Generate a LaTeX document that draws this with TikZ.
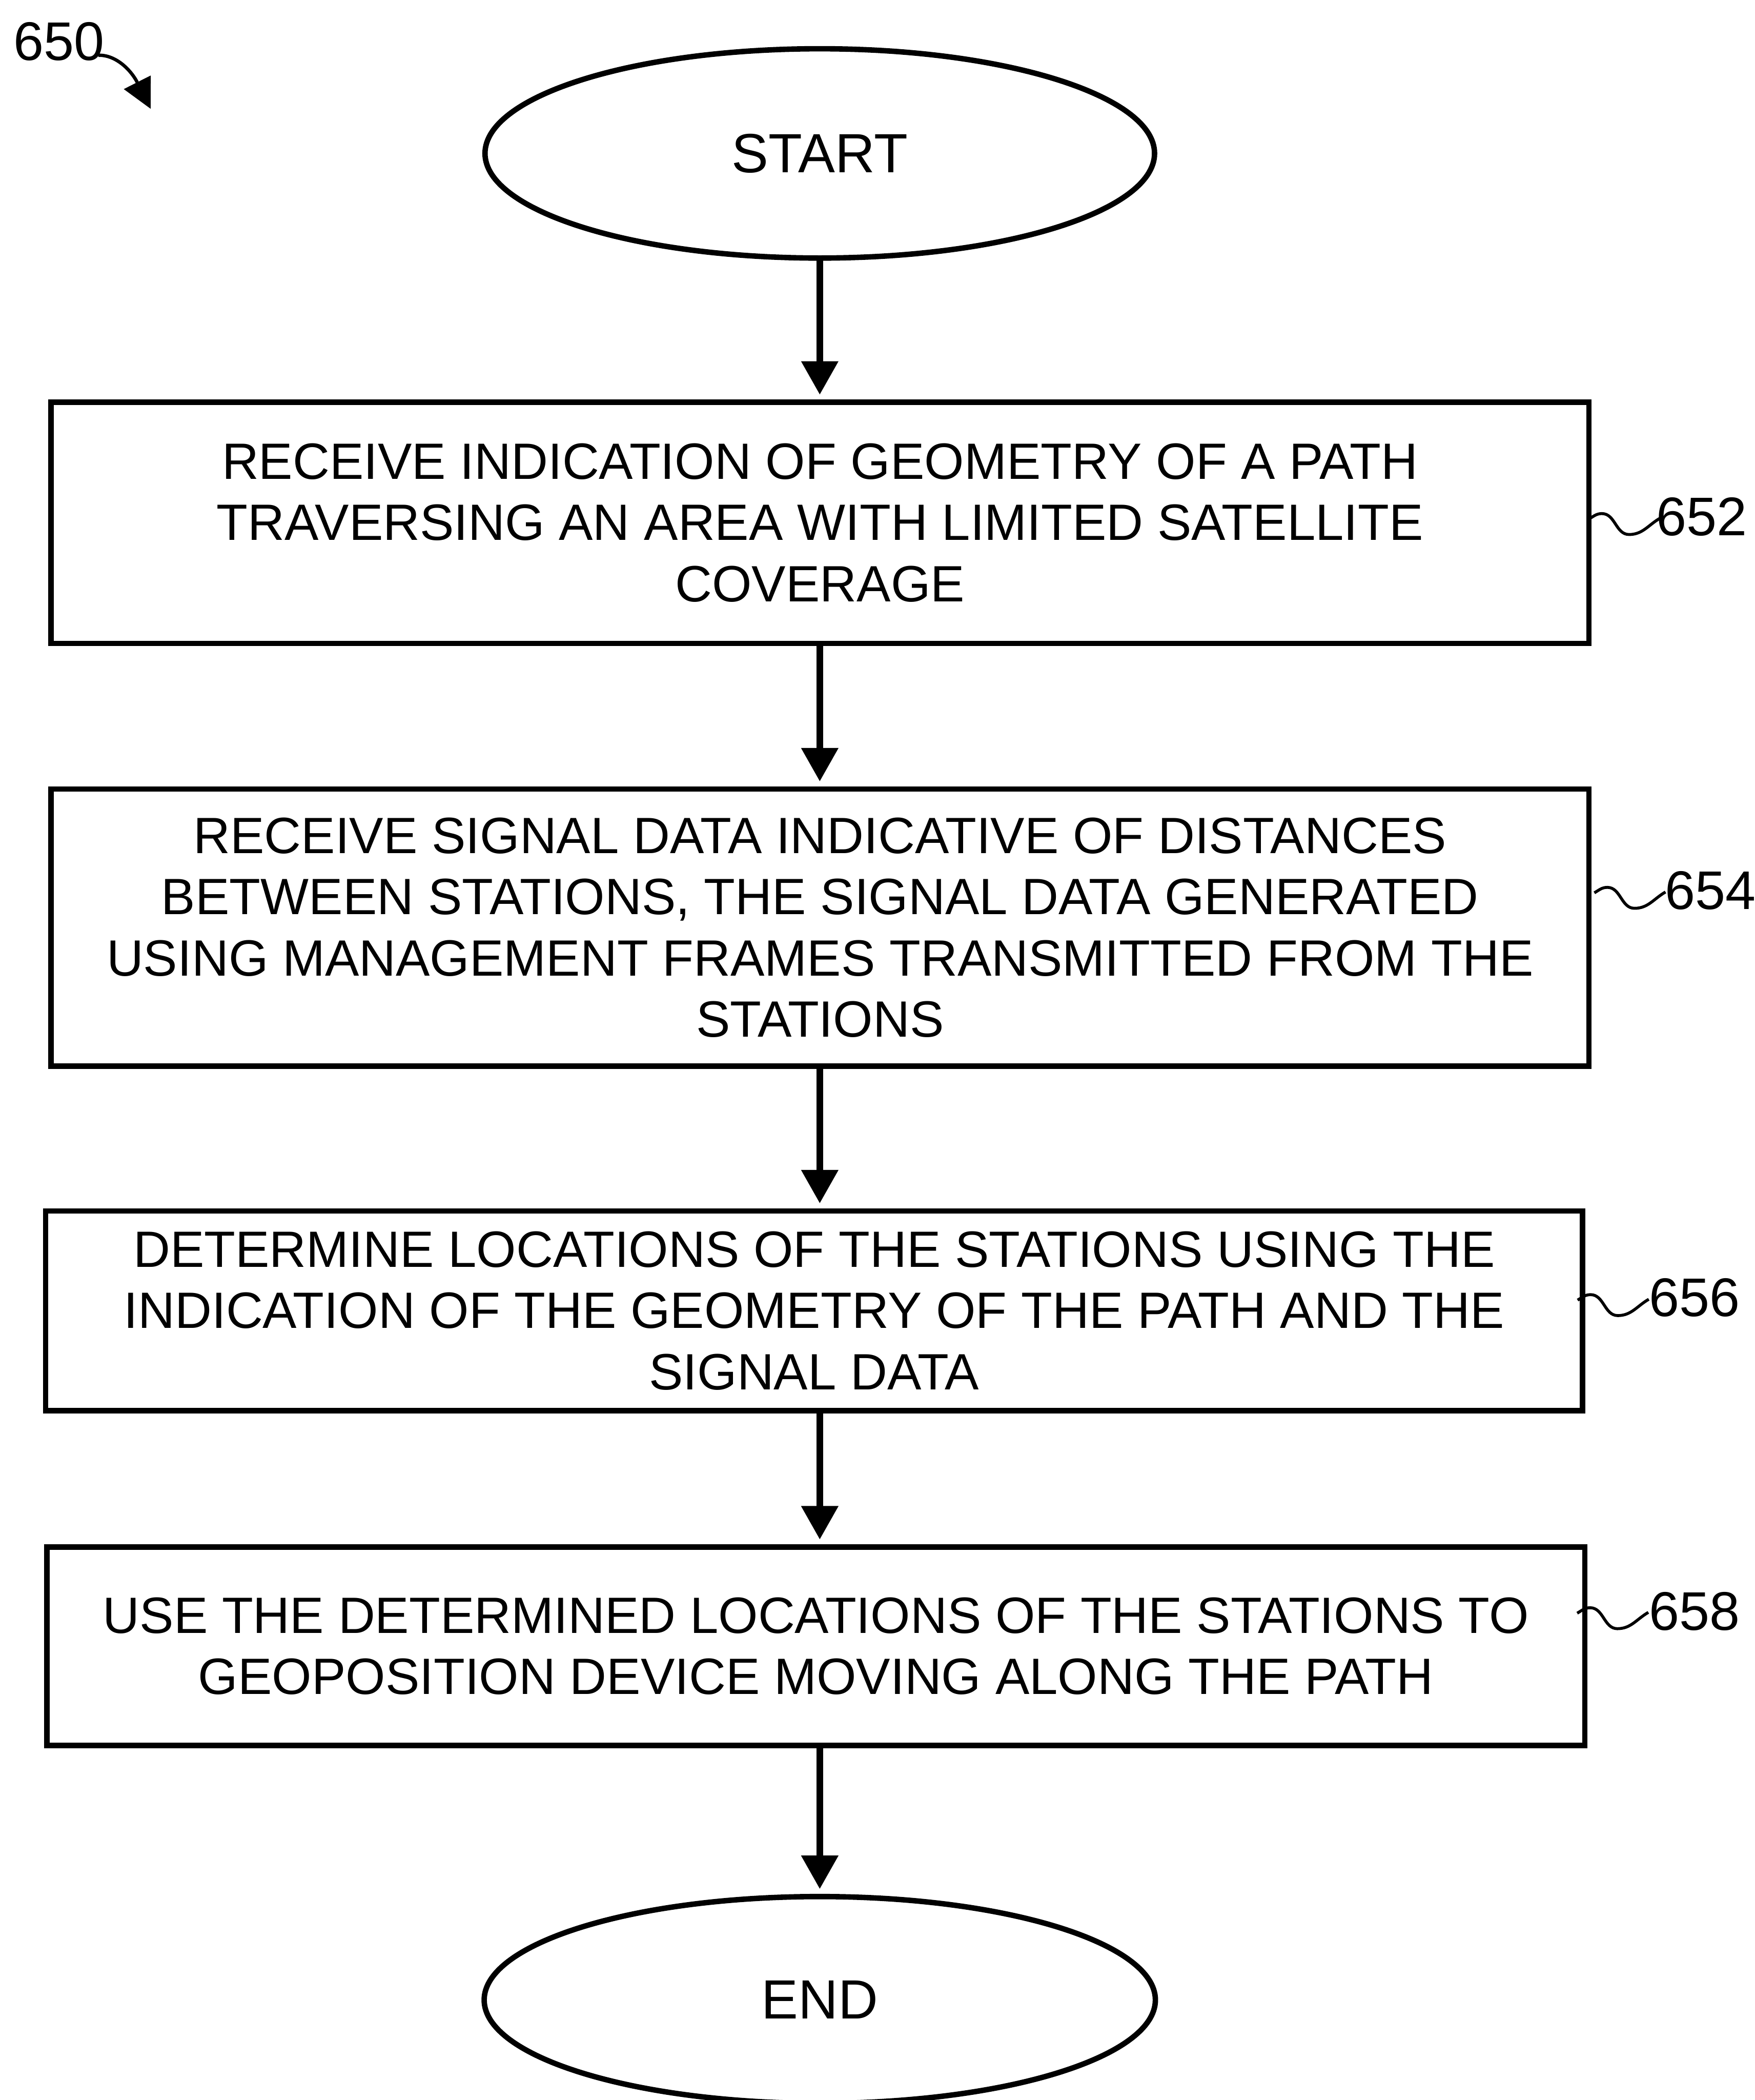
\documentclass[tikz,border=0pt]{standalone}
\usepackage{fontspec}
\setmainfont{Liberation Sans}
\usetikzlibrary{arrows.meta,shapes.geometric}
\begin{document}
\begin{tikzpicture}[x=1pt,y=1pt,
  box/.style={draw, line width=1.3pt, inner sep=0pt, outer sep=0pt, align=center,
    font=\fontsize{12.2}{14.6}\selectfont},
  term/.style={draw, ellipse, line width=1.3pt, inner sep=0pt, outer sep=0pt,
    font=\fontsize{13.2}{15}\selectfont},
  flow/.style={-{Triangle[length=8pt,width=8.5pt]}, line width=1.6pt, shorten >=1.8pt},
  ref/.style={font=\fontsize{13}{15}\selectfont, inner sep=0pt, outer sep=0pt},
  lead/.style={line width=0.7pt},
]
\useasboundingbox (0,0) rectangle (419.3,501.7);
\clip (0,0) rectangle (419.3,501.7);

% terminals
\node[term, minimum width=160pt, minimum height=50pt] (start) at (195.9,465.05) {START};
\node[term, minimum width=160.4pt, minimum height=49.4pt] (end) at (195.9,23.9) {END};

% process boxes
\node[box, minimum width=367.5pt, minimum height=57.6pt] (b652) at (195.95,376.8)
  {RECEIVE INDICATION OF GEOMETRY OF A PATH\\TRAVERSING AN AREA WITH LIMITED SATELLITE\\COVERAGE};
\node[box, minimum width=367.5pt, minimum height=66.2pt] (b654) at (195.95,280.1)
  {RECEIVE SIGNAL DATA INDICATIVE OF DISTANCES\\BETWEEN STATIONS, THE SIGNAL DATA GENERATED\\USING MANAGEMENT FRAMES TRANSMITTED FROM THE\\STATIONS};
\node[box, minimum width=367.3pt, minimum height=47.7pt] (b656) at (194.55,188.55)
  {DETERMINE LOCATIONS OF THE STATIONS USING THE\\INDICATION OF THE GEOMETRY OF THE PATH AND THE\\SIGNAL DATA};
\node[box, minimum width=367.5pt, minimum height=47.4pt] (b658) at (194.95,108.4)
  {USE THE DETERMINED LOCATIONS OF THE STATIONS TO\\GEOPOSITION DEVICE MOVING ALONG THE PATH};

% flow arrows
\draw[flow] (start.south) -- (start.south |- b652.north);
\draw[flow] (start.south |- b652.south) -- (start.south |- b654.north);
\draw[flow] (start.south |- b654.south) -- (start.south |- b656.north);
\draw[flow] (start.south |- b656.south) -- (start.south |- b658.north);
\draw[flow] (start.south |- b658.south) -- (end.north);

% reference labels
\node[ref] (l650) at (14.1,491.8) {650};
\node[ref] (l652) at (406.6,378.2) {652};
\node[ref] (l654) at (408.7,289.0) {654};
\node[ref] (l656) at (404.9,191.7) {656};
\node[ref] (l658) at (404.9,116.7) {658};

\coordinate (p650) at (36.0,475.7);
\draw[line width=0.8pt, -{Triangle[length=7.1pt,width=7pt]}]
  ([xshift=-1.4pt,yshift=-3.3pt]l650.east) .. controls +(4.0,0.1) and (31.2,485.2) .. (p650);

\draw[lead] ([yshift=0.9pt]b652.east) to[out=30,in=180] ++(3.1,1.3)
  to[out=0,in=180] ++(6.5,-5.0) to[out=0,in=210] ++(7.4,3.9);
\draw[lead] ([xshift=1.3pt,yshift=8.3pt]b654.east) to[out=30,in=180] ++(3.1,1.3)
  to[out=0,in=180] ++(6.5,-5.0) to[out=0,in=210] ++(7.4,3.9);
\draw[lead] ([xshift=-1.2pt,yshift=2.55pt]b656.east) to[out=30,in=180] ++(3.1,1.3)
  to[out=0,in=180] ++(6.5,-5.0) to[out=0,in=210] ++(7.4,3.9);
\draw[lead] ([xshift=-1.8pt,yshift=7.9pt]b658.east) to[out=30,in=180] ++(3.1,1.3)
  to[out=0,in=180] ++(6.5,-5.0) to[out=0,in=210] ++(7.4,3.9);
\end{tikzpicture}
\end{document}
